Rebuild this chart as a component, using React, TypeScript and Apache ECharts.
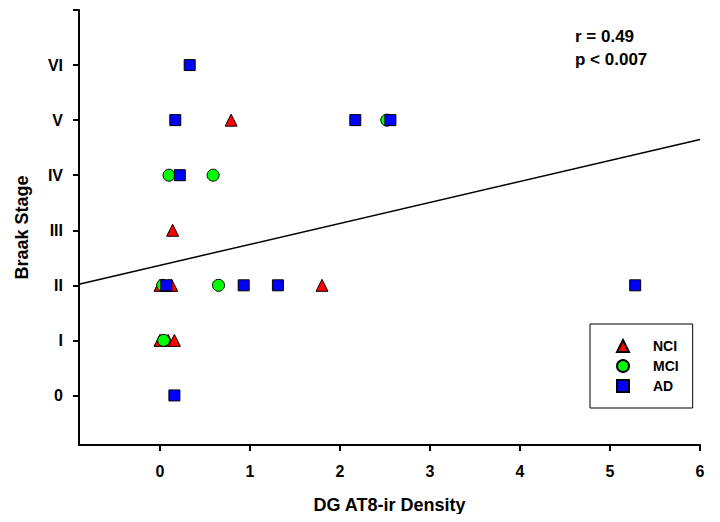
import React, { useEffect, useRef } from "react";
import * as echarts from "echarts";

const FONT = "'Liberation Sans', Arial, Helvetica, sans-serif";

const stageLabels = ["0", "I", "II", "III", "IV", "V", "VI"];
const yTickValues = [0, 1, 2, 3, 4, 5, 6, 7];
const yLabelValues = [0, 1, 2, 3, 4, 5, 6];
const xTickValues = [0, 1, 2, 3, 4, 5, 6];

const nciData: number[][] = [
  [0.79, 5],
  [0.14, 3],
  [0.0, 2],
  [0.1, 2],
  [0.13, 2],
  [1.8, 2],
  [0.0, 1],
  [0.09, 1],
  [0.16, 1],
];
const mciData: number[][] = [
  [0.1, 4],
  [0.59, 4],
  [2.52, 5],
  [0.03, 2],
  [0.65, 2],
  [0.04, 1],
];
const adData: number[][] = [
  [0.33, 6],
  [0.17, 5],
  [2.17, 5],
  [2.56, 5],
  [0.22, 4],
  [0.07, 2],
  [0.93, 2],
  [1.31, 2],
  [5.28, 2],
  [0.16, 0],
];
const fitLine: number[][] = [
  [-0.9, 2.02],
  [6, 4.65],
];
const statLines = ["r = 0.49", "p < 0.007"];

export default function App() {
  const ref = useRef<HTMLDivElement>(null);
  useEffect(() => {
    if (!ref.current) return;
    const chart = echarts.init(ref.current, null, { renderer: "svg" });
    const markerStyle = (color: string) => ({
      color,
      borderColor: "#000",
      borderWidth: 1,
      opacity: 1,
    });
    chart.setOption({
      animation: false,
      backgroundColor: "#fff",
      textStyle: { fontFamily: FONT },
      grid: { left: 79, right: 20, top: 10, bottom: 77, containLabel: false },
      xAxis: {
        type: "value",
        min: -0.9,
        max: 6,
        name: "DG AT8-ir Density",
        nameLocation: "middle",
        nameGap: 51,
        nameTextStyle: { fontSize: 18, fontWeight: "bold", color: "#000", fontFamily: FONT },
        axisLine: { show: true, onZero: false, lineStyle: { color: "#000", width: 2 } },
        axisTick: { show: true, customValues: xTickValues, length: 6, lineStyle: { color: "#000", width: 2 } },
        axisLabel: {
          customValues: xTickValues,
          margin: 18,
          fontSize: 16,
          fontWeight: "bold",
          color: "#000",
          fontFamily: FONT,
        },
        splitLine: { show: false },
      },
      yAxis: {
        type: "value",
        min: -0.9,
        max: 7,
        name: "Braak Stage",
        nameLocation: "middle",
        nameGap: 48,
        nameTextStyle: { fontSize: 18, fontWeight: "bold", color: "#000", fontFamily: FONT },
        axisLine: { show: true, onZero: false, lineStyle: { color: "#000", width: 2 } },
        axisTick: { show: true, customValues: yTickValues, length: 6, lineStyle: { color: "#000", width: 2 } },
        axisLabel: {
          customValues: yLabelValues,
          margin: 16,
          fontSize: 16,
          fontWeight: "bold",
          color: "#000",
          fontFamily: FONT,
          formatter: (v: number) => stageLabels[Math.round(v)] ?? "",
        },
        splitLine: { show: false },
      },
      legend: {
        left: 590,
        top: 324,
        orient: "vertical",
        padding: [15, 14, 15, 26],
        itemGap: 6,
        itemWidth: 12,
        itemHeight: 12,
        borderColor: "#000",
        borderWidth: 1,
        data: ["NCI", "MCI", "AD"],
        textStyle: {
          fontSize: 14,
          fontWeight: "bold",
          color: "#000",
          fontFamily: FONT,
          padding: [0, 0, 0, 19],
        },
      },
      series: [
        {
          type: "line",
          data: fitLine,
          symbol: "none",
          silent: true,
          lineStyle: { color: "#000", width: 1.5 },
          z: 1,
        },
        {
          name: "NCI",
          type: "scatter",
          symbol: "triangle",
          symbolSize: 12,
          data: nciData,
          itemStyle: markerStyle("#ff0000"),
          z: 2,
        },
        {
          name: "MCI",
          type: "scatter",
          symbol: "circle",
          symbolSize: 12,
          data: mciData,
          itemStyle: markerStyle("#00ff00"),
          z: 3,
        },
        {
          name: "AD",
          type: "scatter",
          symbol: "rect",
          symbolSize: 11,
          data: adData,
          itemStyle: markerStyle("#0000ff"),
          z: 4,
        },
      ],
      graphic: statLines.map((t, i) => ({
        type: "text",
        left: 575,
        top: 28 + i * 23,
        style: {
          text: t,
          fontSize: 17,
          fontWeight: "bold",
          fill: "#000",
          fontFamily: FONT,
        },
      })),
    });
    return () => chart.dispose();
  }, []);
  return <div ref={ref} style={{ width: 720, height: 522, margin: -8 }} />;
}
